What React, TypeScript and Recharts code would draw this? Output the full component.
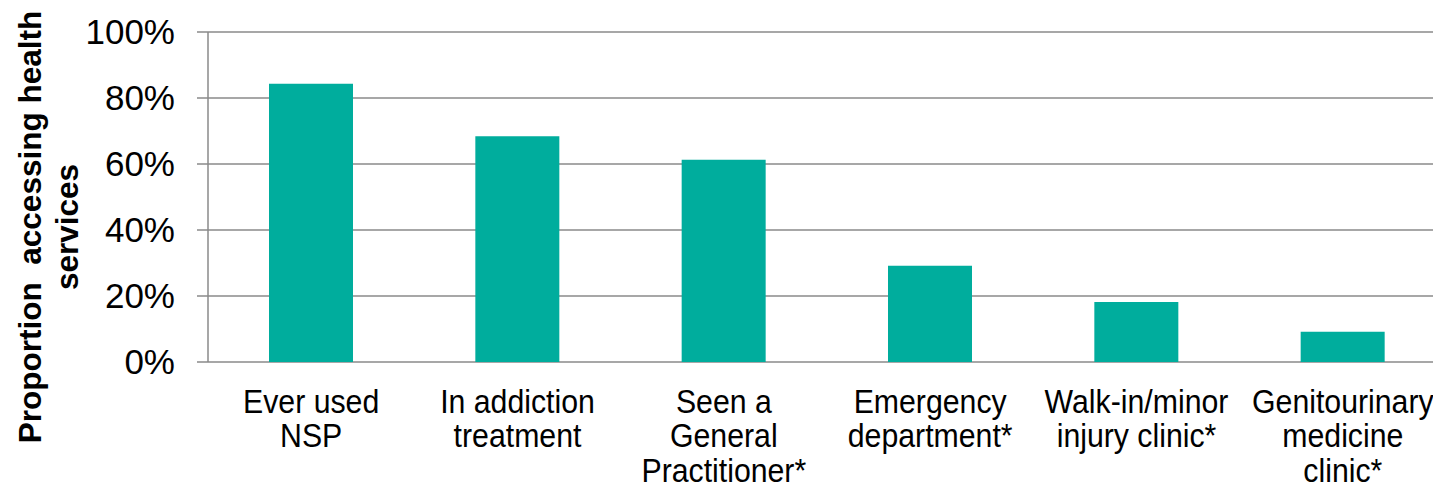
import React from "react";
import { BarChart, Bar, XAxis, YAxis, CartesianGrid, Label } from "recharts";

const categories: string[] = [
  "Ever used\nNSP",
  "In addiction\ntreatment",
  "Seen a\nGeneral\nPractitioner*",
  "Emergency\ndepartment*",
  "Walk-in/minor\ninjury clinic*",
  "Genitourinary\nmedicine\nclinic*",
];

const proportions: number[] = [84.3, 68.4, 61.3, 29.2, 18.2, 9.2];

const yTicks: number[] = [0, 20, 40, 60, 80, 100];
const edgeTicks: number[] = [0, 1, 2, 3, 4, 5, 6];

const titleLines: string[] = ["Proportion  accessing health", "services"];

const data = categories.map((name, i) => ({ name, value: proportions[i] }));

const FONT = "'Liberation Sans', Arial, sans-serif";
const GRID = "#8a8a8a";
const TEAL = "#00ad9d";

const CategoryTick = (props: any) => {
  const { x, y, payload } = props;
  const lines = String(payload.value).split("\n");
  return (
    <g transform={`translate(${x},${y}) scale(0.89,1)`}>
      <text textAnchor="middle" fontFamily={FONT} fontSize={34} fill="#000">
        {lines.map((line, i) => (
          <tspan key={i} x={0} y={51 + i * 34.5}>
            {line}
          </tspan>
        ))}
      </text>
    </g>
  );
};

const YTitle = (props: any) => {
  const cy = 219;
  return (
    <g>
      {titleLines.map((line, i) => {
        const cx = 22 + i * 37;
        return (
          <text
            key={i}
            x={cx}
            y={cy}
            transform={`rotate(-90, ${cx}, ${cy})`}
            textAnchor="middle"
            dominantBaseline="central"
            fontFamily={FONT}
            fontSize={31.5}
            fontWeight="bold"
            fill="#000"
            style={{ whiteSpace: "pre" }}
          >
            {line}
          </text>
        );
      })}
    </g>
  );
};

export default function App() {
  return (
    <div style={{ width: 1433, overflow: "hidden" }}>
      <BarChart
        width={1438}
        height={483}
        data={data}
        margin={{ top: 24, right: 0, bottom: 0, left: 0 }}
      >
        <CartesianGrid vertical={false} stroke={GRID} strokeWidth={1.5} />
        <XAxis
          xAxisId="edges"
          type="number"
          domain={[0, 6]}
          ticks={edgeTicks}
          tick={false}
          height={0}
          tickSize={10}
          axisLine={{ stroke: GRID, strokeWidth: 1.5 }}
          tickLine={{ stroke: GRID, strokeWidth: 1.5 }}
        />
        <XAxis
          xAxisId="cat"
          dataKey="name"
          height={129}
          axisLine={false}
          tickLine={false}
          tickSize={0}
          tickMargin={0}
          interval={0}
          tick={<CategoryTick />}
        />
        <YAxis
          width={200}
          domain={[0, 100]}
          ticks={yTicks}
          interval={0}
          tickFormatter={(v: number) => `${v}%`}
          tickSize={11}
          tickMargin={22}
          axisLine={{ stroke: GRID, strokeWidth: 1.5 }}
          tickLine={{ stroke: GRID, strokeWidth: 1.5 }}
          tick={{ fontFamily: FONT, fontSize: 35, fill: "#000" }}
        >
          <Label content={<YTitle />} />
        </YAxis>
        <Bar
          xAxisId="cat"
          dataKey="value"
          fill={TEAL}
          barSize={84}
          isAnimationActive={false}
        />
      </BarChart>
    </div>
  );
}
